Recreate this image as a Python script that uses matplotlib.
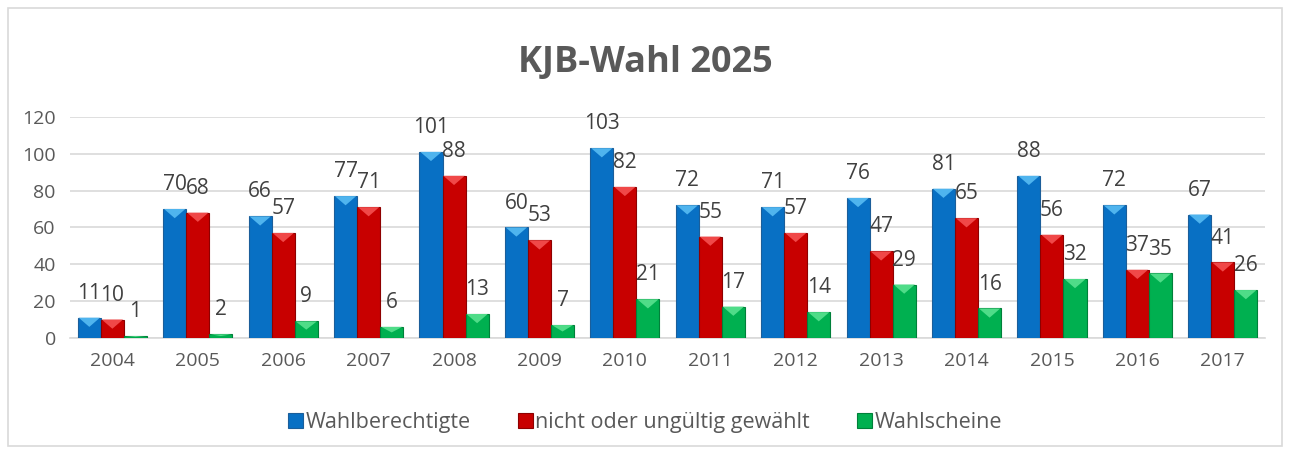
import numpy as np
import matplotlib.pyplot as plt
from matplotlib.patches import Polygon, Rectangle

plt.rcParams['font.family'] = ['Open Sans', 'DejaVu Sans']

years = ['2004', '2005', '2006', '2007', '2008', '2009', '2010',
         '2011', '2012', '2013', '2014', '2015', '2016', '2017']
wahlberechtigte = [11, 70, 66, 77, 101, 60, 103, 72, 71, 76, 81, 88, 72, 67]
nicht_gewaehlt = [10, 68, 57, 71, 88, 53, 82, 55, 57, 47, 65, 56, 37, 41]
wahlscheine = [1, 2, 9, 6, 13, 7, 21, 17, 14, 29, 16, 32, 35, 26]

series = [
    ('Wahlberechtigte', wahlberechtigte, '#0870C4', '#1B5E9A', '#4FB4EE'),
    ('nicht oder ungültig gewählt', nicht_gewaehlt, '#C80000', '#8E0000', '#F04848'),
    ('Wahlscheine', wahlscheine, '#00B050', '#00803A', '#4FDC88'),
]

fig = plt.figure(figsize=(12.9, 4.53), dpi=100)
# outer frame
fig.patches.append(Rectangle((0.006, 0.015), 0.988, 0.968, transform=fig.transFigure,
                             fill=False, edgecolor='#D9D9D9', linewidth=1.2))
ax = fig.add_axes([0.054, 0.254, 0.927, 0.488])

x = np.arange(len(years))
w = 0.27
label_color = '#404040'

handles = []
for i, (name, vals, col, edge, light) in enumerate(series):
    bars = ax.bar(x + (i - 1) * w, vals, width=w, color=col, edgecolor=edge,
                  linewidth=0.8, zorder=3, label=name)
    handles.append(bars)
    for b, v in zip(bars, vals):
        bx, bw, bh = b.get_x(), b.get_width(), b.get_height()
        th = min(5.0, bh * 0.5)
        tri = Polygon([[bx + 0.01, bh], [bx + bw - 0.01, bh], [bx + bw / 2, bh - th]],
                      closed=True, color=light, zorder=4, linewidth=0)
        ax.add_patch(tri)
        ax.annotate(str(v), (bx + bw / 2, bh), xytext=(0, 10), textcoords='offset points',
                    ha='center', va='bottom', fontsize=15, color=label_color, zorder=5)

ax.set_ylim(0, 120)
ax.set_xlim(-0.5, len(years) - 0.5)
ax.set_yticks(range(0, 121, 20))
ax.set_xticks(x)
ax.set_xticklabels(years)
ax.grid(axis='y', color='#D9D9D9', linewidth=1.2, zorder=0)
for s in ['top', 'right', 'left']:
    ax.spines[s].set_visible(False)
ax.spines['bottom'].set_color('#D9D9D9')
ax.spines['bottom'].set_linewidth(1.2)
ax.tick_params(axis='both', length=0, labelsize=14, labelcolor='#595959')
ax.tick_params(axis='x', pad=10)
ax.tick_params(axis='y', pad=10)

fig.text(0.5, 0.862, 'KJB-Wahl 2025', ha='center', va='center', fontsize=26,
         fontweight='bold', color='#595959')

leg = fig.legend(handles=handles, loc='center', bbox_to_anchor=(0.5, 0.068), ncol=3,
                 frameon=False, fontsize=15.5, handlelength=0.7, handleheight=0.7,
                 handletextpad=0.1, columnspacing=2.2)
for t in leg.get_texts():
    t.set_color('#595959')

fig.savefig('out.png', dpi=100)
